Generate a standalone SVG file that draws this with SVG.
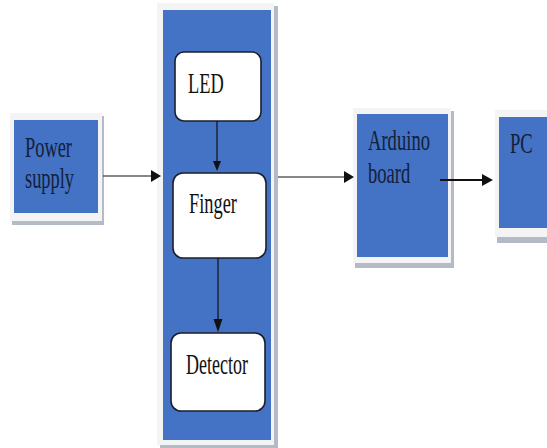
<svg xmlns="http://www.w3.org/2000/svg" width="547" height="448" viewBox="0 0 547 448">
<style>
.shadow{fill:#b4bac8}
.frame{fill:#f4f4f4}
.blue{fill:#4472c4}
.inner{fill:#ffffff;stroke:#1b1f2e;stroke-width:1.6}
.lbl{font-family:"Liberation Serif","Times New Roman",serif;font-size:20px}
.dk{fill:#13203a}
.bk{fill:#111111}
.ln{stroke:#111;stroke-width:1.2;fill:none}
.ln2{stroke:#111;stroke-width:2;fill:none}
.hd{fill:#111}
</style>
<rect width="547" height="448" fill="#ffffff"/>
<g id="power-supply">
<rect class="shadow" x="12" y="116" width="92" height="109"/>
<rect class="frame" x="10" y="113" width="92" height="108"/>
<rect class="blue" x="14" y="120" width="84" height="93"/>
<text class="lbl dk" transform="translate(25,157) scale(0.92,1.42)">Power</text>
<text class="lbl dk" transform="translate(25,188) scale(0.92,1.42)">supply</text>
</g>
<g id="sensor-unit">
<rect class="shadow" x="160" y="6" width="118" height="442"/>
<rect class="frame" x="157" y="3" width="117" height="442"/>
<rect class="blue" x="163" y="10" width="108" height="430"/>
</g>
<g id="led">
<rect class="inner" x="175" y="52" width="86" height="69" rx="9"/>
<text class="lbl bk" transform="translate(188,93) scale(0.92,1.42)">LED</text>
</g>
<g id="finger">
<rect class="inner" x="173" y="173" width="93" height="85" rx="10"/>
<text class="lbl bk" transform="translate(189,212.5) scale(0.92,1.42)">Finger</text>
</g>
<g id="detector">
<rect class="inner" x="171" y="333" width="94" height="78" rx="10"/>
<text class="lbl bk" transform="translate(186,374) scale(0.9,1.42)">Detector</text>
</g>
<g id="arduino">
<rect class="shadow" x="355" y="111" width="99" height="157"/>
<rect class="frame" x="353" y="108" width="98" height="155"/>
<rect class="blue" x="357" y="114" width="91" height="143"/>
<text class="lbl dk" transform="translate(368,150) scale(0.93,1.42)">Arduino</text>
<text class="lbl dk" transform="translate(368,183) scale(0.93,1.42)">board</text>
</g>
<g id="pc">
<rect class="shadow" x="497" y="113" width="50" height="130"/>
<rect class="frame" x="495" y="110" width="52" height="127"/>
<rect class="blue" x="499" y="117" width="48" height="111"/>
<text class="lbl dk" transform="translate(510,153) scale(0.93,1.42)">PC</text>
</g>
<g id="connectors">
<line class="ln" x1="103" y1="176" x2="152" y2="176"/>
<polygon class="hd" points="161,176 151,170 151,182"/>
<line class="ln" x1="217" y1="121" x2="217" y2="162"/>
<polygon class="hd" points="217,171 213,161 221,161"/>
<line class="ln" x1="218" y1="258" x2="218" y2="320"/>
<polygon class="hd" points="218,332 213.5,319 222.5,319"/>
<line class="ln" x1="278" y1="177" x2="345" y2="177"/>
<polygon class="hd" points="354,177 344,171 344,183"/>
<line class="ln2" x1="440" y1="180" x2="484" y2="180"/>
<polygon class="hd" points="493,180 482,174 482,186"/>
</g>
</svg>
